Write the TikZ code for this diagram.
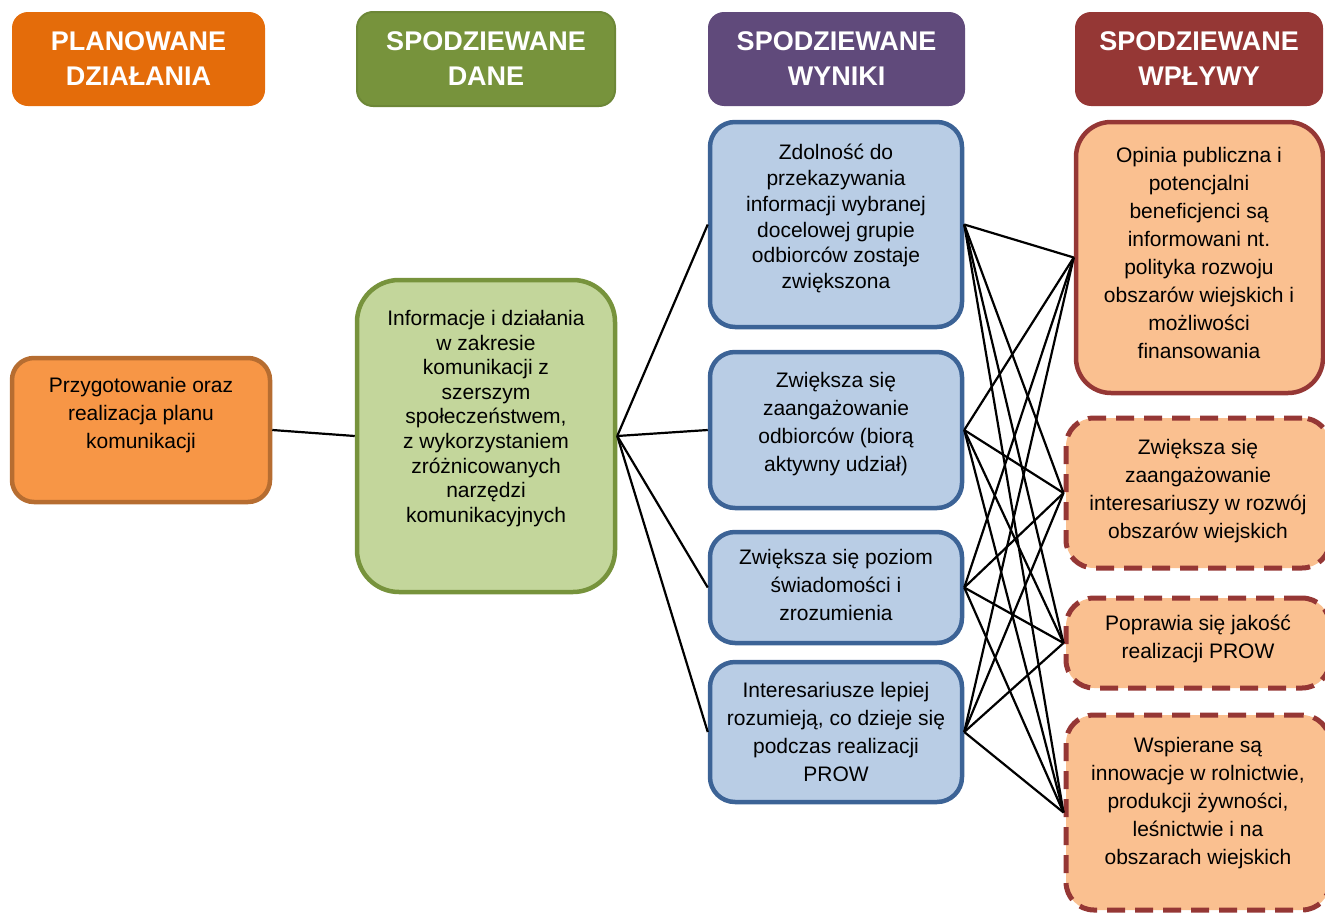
\documentclass[tikz,border=0pt]{standalone}
\usepackage{fontspec}
\setmainfont{Liberation Sans}

\definecolor{plorange}{HTML}{E46C0A}
\definecolor{dagreen}{HTML}{77933C}
\definecolor{wypurple}{HTML}{604A7B}
\definecolor{wpred}{HTML}{953735}
\definecolor{plfill}{HTML}{F79646}
\definecolor{pledge}{HTML}{B66D31}
\definecolor{dafill}{HTML}{C3D69B}
\definecolor{wyfill}{HTML}{B9CDE5}
\definecolor{wyedge}{HTML}{3C6396}
\definecolor{wpfill}{HTML}{FAC090}

\tikzset{
    head/.style={rounded corners=16pt, minimum height=94pt, inner sep=0pt, align=center,
        text=white, font=\fontsize{27}{35}\selectfont\bfseries},
    txt/.style={anchor=north, inner sep=0pt, align=center,
        execute at begin node=\rule{0pt}{20pt}},
    box/.style={draw, line width=4.5pt, inner sep=0pt},
    wybox/.style={box, draw=wyedge, fill=wyfill, rounded corners=25pt, minimum width=252pt},
    wpbox/.style={box, draw=wpred, fill=wpfill, rounded corners=28pt, minimum width=264pt,
        line width=5pt, dash pattern=on 18pt off 10pt},
    link/.style={line width=2.2pt}
}

\begin{document}
\begin{tikzpicture}[x=1pt, y=-1pt, font=\fontsize{21}{28}\selectfont]
    \useasboundingbox (0,0) rectangle (1325,913);

    % column headings
    \node[head, fill=plorange, minimum width=253pt] (h1) at (138.5,59) {PLANOWANE\\DZIAŁANIA};
    \node[head, fill=dagreen, draw=dagreen!92!black, line width=2pt, minimum width=258pt] (h2) at (486,59) {SPODZIEWANE\\DANE};
    \node[head, fill=wypurple, minimum width=257pt] (h3) at (836.5,59) {SPODZIEWANE\\WYNIKI};
    \node[head, fill=wpred, minimum width=248pt] (h4) at (1199,59) {SPODZIEWANE\\WPŁYWY};

    % boxes
    \node[box, draw=pledge, fill=plfill, rounded corners=22pt, minimum width=258pt, minimum height=144pt] (pl) at (141,430) {};
    \node[box, draw=dagreen, fill=dafill, rounded corners=42pt, minimum width=258pt, minimum height=312pt] (da) at (486,436) {};

    \node[wybox, minimum height=205pt] (r1) at (836,224.5) {};
    \node[wybox, minimum height=156pt] (r2) at (836,430) {};
    \node[wybox, minimum height=111pt] (r3) at (836,587.5) {};
    \node[wybox, minimum height=140pt] (r4) at (836,732) {};

    \node[box, draw=wpred, fill=wpfill, rounded corners=35pt, minimum width=247pt, minimum height=271pt] (i1) at (1199.5,257.5) {};
    \node[wpbox, minimum height=150pt] (i2) at (1198,493) {};
    \node[wpbox, minimum height=90pt] (i3) at (1198,643) {};
    \node[wpbox, minimum height=195pt] (i4) at (1198,812.5) {};

    % connectors
    \draw[link] (pl.east) -- (da.west);
    \draw[link] (da.east) -- (r1.west);
    \draw[link] (da.east) -- (r2.west);
    \draw[link] (da.east) -- (r3.west);
    \draw[link] (da.east) -- (r4.west);

    \draw[link] (r1.east) -- (i1.west);
    \draw[link] (r1.east) -- (i2.west);
    \draw[link] (r1.east) -- (i3.west);
    \draw[link] (r1.east) -- (i4.west);
    \draw[link] (r2.east) -- (i1.west);
    \draw[link] (r2.east) -- (i2.west);
    \draw[link] (r2.east) -- (i3.west);
    \draw[link] (r2.east) -- (i4.west);
    \draw[link] (r3.east) -- (i1.west);
    \draw[link] (r3.east) -- (i2.west);
    \draw[link] (r3.east) -- (i3.west);
    \draw[link] (r3.east) -- (i4.west);
    \draw[link] (r4.east) -- (i1.west);
    \draw[link] (r4.east) -- (i2.west);
    \draw[link] (r4.east) -- (i3.west);
    \draw[link] (r4.east) -- (i4.west);

    % box texts
    \node[txt] (pl-t) at (141,377) {Przygotowanie oraz\\realizacja planu\\komunikacji};
    \node[txt, font=\fontsize{21}{24.6}\selectfont] (da-t) at (486,310)
        {Informacje i działania\\w zakresie\\komunikacji z\\szerszym\\społeczeństwem,\\z wykorzystaniem\\zróżnicowanych\\narzędzi\\komunikacyjnych};

    \node[txt, font=\fontsize{21}{25.8}\selectfont] (r1-t) at (836,144)
        {Zdolność do\\przekazywania\\informacji wybranej\\docelowej grupie\\odbiorców zostaje\\zwiększona};
    \node[txt] (r2-t) at (836,372) {Zwiększa się\\zaangażowanie\\odbiorców (biorą\\aktywny udział)};
    \node[txt] (r3-t) at (836,549) {Zwiększa się poziom\\świadomości i\\zrozumienia};
    \node[txt] (r4-t) at (836,682) {Interesariusze lepiej\\rozumieją, co dzieje się\\podczas realizacji\\PROW};

    \node[txt] (i1-t) at (1199,147)
        {Opinia publiczna i\\potencjalni\\beneficjenci są\\informowani nt.\\polityka rozwoju\\obszarów wiejskich i\\możliwości\\finansowania};
    \node[txt] (i2-t) at (1198,439) {Zwiększa się\\zaangażowanie\\interesariuszy w rozwój\\obszarów wiejskich};
    \node[txt] (i3-t) at (1198,615) {Poprawia się jakość\\realizacji PROW};
    \node[txt] (i4-t) at (1198,737) {Wspierane są\\innowacje w rolnictwie,\\produkcji żywności,\\leśnictwie i na\\obszarach wiejskich};
\end{tikzpicture}
\end{document}
